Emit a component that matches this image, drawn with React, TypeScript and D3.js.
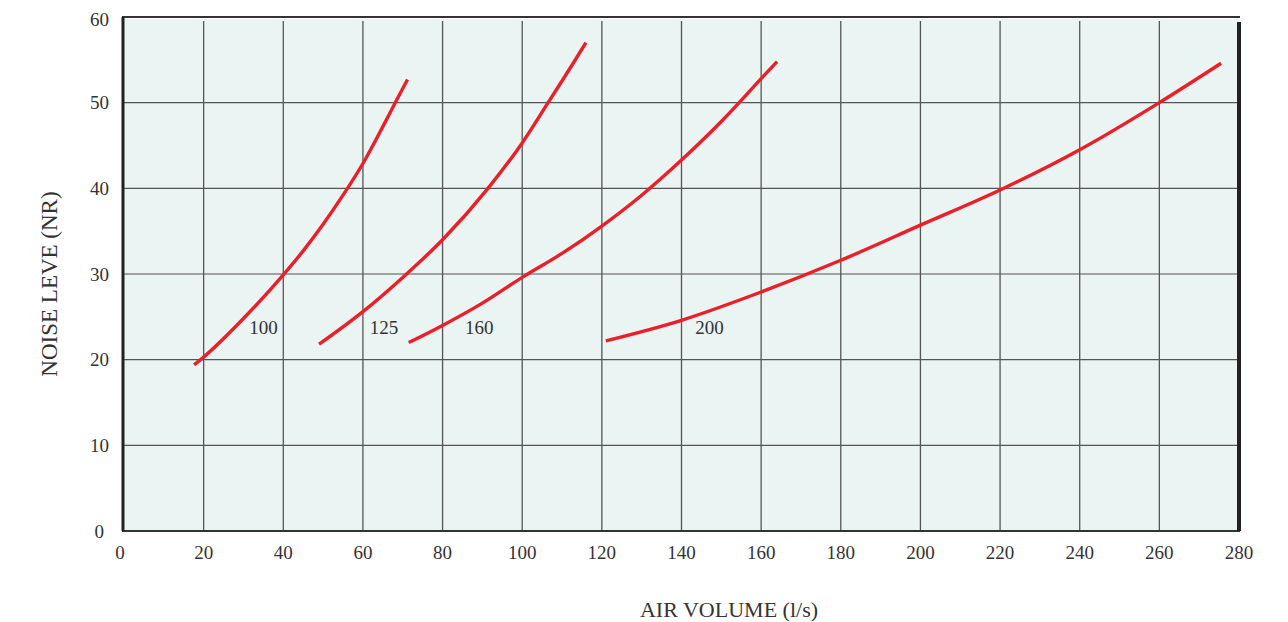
import { useEffect, useRef } from 'react';
import * as d3 from 'd3';

// Noise level (NR) vs air volume (l/s) per duct size
const sizes = ['100', '125', '160', '200'];
const curve100: [number, number][] = [[17.6, 19.4], [20, 20.3], [30, 24.8], [40, 29.9], [45, 32.7], [50, 35.8], [55, 39.2], [60, 42.9], [65, 47.2], [68, 49.9], [71.2, 52.7]];
const curve125: [number, number][] = [[49, 21.8], [60, 25.6], [70, 29.6], [80, 34], [91.4, 40], [100, 45.3], [106.5, 50], [112.8, 54.6], [116, 57]];
const curve160: [number, number][] = [[71.5, 22], [80, 24], [90, 26.6], [100, 29.6], [110, 32.4], [120, 35.6], [130, 39.2], [140, 43.3], [150, 47.8], [160, 52.8], [164, 54.8]];
const curve200: [number, number][] = [[121, 22.2], [140, 24.6], [160, 27.9], [180, 31.6], [200, 35.7], [220, 39.8], [240, 44.5], [260, 50], [275.5, 54.6]];
const labelPos: [number, number][] = [[35, 23.8], [65.3, 23.8], [89.2, 23.8], [147, 23.8]];
const xTicks = d3.range(0, 281, 20);
const yTicks = d3.range(0, 61, 10);

export default function App() {
  const svgRef = useRef<SVGSVGElement>(null);
  const width = 1288, height = 622;

  useEffect(() => {
    if (!svgRef.current) return;
    const svg = d3.select(svgRef.current);
    svg.selectAll('*').remove();

    const x = d3.scaleLinear().domain([0, 280]).range([124, 1239]);
    const y = d3.scaleLinear().domain([0, 60]).range([531, 17]);
    const font = "'Liberation Serif', 'DejaVu Serif', serif";
    const ink = '#333';

    // plot background
    svg.append('rect').attr('x', x(0)).attr('y', y(60) + 2).attr('width', x(280) - x(0)).attr('height', y(0) - y(60) - 2)
      .attr('fill', '#eaf4f2');

    // grid
    svg.append('g').selectAll('line').data(yTicks.filter(d => d > 0 && d < 60)).enter().append('line')
      .attr('x1', x(0)).attr('x2', x(280)).attr('y1', d => y(d)).attr('y2', d => y(d))
      .attr('stroke', '#555').attr('stroke-width', 1.2);
    svg.append('g').selectAll('line').data(xTicks.filter(d => d > 0 && d < 280)).enter().append('line')
      .attr('x1', d => x(d)).attr('x2', d => x(d)).attr('y1', y(60) + 4).attr('y2', y(0))
      .attr('stroke', '#555').attr('stroke-width', 1.3);

    // frame
    svg.append('line').attr('x1', x(0) - 2).attr('x2', x(280) + 1).attr('y1', y(60)).attr('y2', y(60))
      .attr('stroke', ink).attr('stroke-width', 2);
    svg.append('line').attr('x1', x(0) - 2).attr('x2', x(280) + 1).attr('y1', y(0)).attr('y2', y(0))
      .attr('stroke', ink).attr('stroke-width', 2);
    svg.append('line').attr('x1', x(0) - 1).attr('x2', x(0) - 1).attr('y1', y(60)).attr('y2', y(0))
      .attr('stroke', '#222').attr('stroke-width', 3);
    svg.append('line').attr('x1', x(280)).attr('x2', x(280)).attr('y1', y(60) + 5).attr('y2', y(0))
      .attr('stroke', '#222').attr('stroke-width', 4);

    // tick labels
    svg.append('g').selectAll('text').data(yTicks).enter().append('text')
      .attr('x', d => (d === 0 ? 104 : 109)).attr('y', d => y(d) + (d === 60 ? 9 : 6.5)).attr('text-anchor', 'end')
      .attr('font-family', font).attr('font-size', 19).attr('fill', ink).text(d => d);
    svg.append('g').selectAll('text').data(xTicks).enter().append('text')
      .attr('x', d => x(d) - (d === 0 ? 4 : 0)).attr('y', 559).attr('text-anchor', 'middle')
      .attr('font-family', font).attr('font-size', 19).attr('fill', ink).text(d => d);

    // axis titles
    svg.append('text').attr('x', 729).attr('y', 617).attr('text-anchor', 'middle')
      .attr('font-family', font).attr('font-size', 22).attr('fill', ink).text('AIR VOLUME (l/s)');
    svg.append('text').attr('transform', 'translate(57,284) rotate(-90)').attr('text-anchor', 'middle')
      .attr('font-family', font).attr('font-size', 23).attr('fill', ink).text('NOISE LEVE (NR)');

    // curves
    const line = d3.line<[number, number]>().x(d => x(d[0])).y(d => y(d[1])).curve(d3.curveMonotoneX);
    [curve100, curve125, curve160, curve200].forEach(c => {
      svg.append('path').datum(c).attr('d', line)
        .attr('fill', 'none').attr('stroke', '#ea1f29').attr('stroke-width', 3.4);
    });

    // curve labels
    svg.append('g').selectAll('text').data(sizes).enter().append('text')
      .attr('x', (_, i) => x(labelPos[i][0])).attr('y', (_, i) => y(labelPos[i][1]) + 7).attr('text-anchor', 'middle')
      .attr('font-family', font).attr('font-size', 19).attr('fill', ink).text(d => d);
  }, []);

  return <svg ref={svgRef} width={width} height={height} viewBox={`0 0 ${width} ${height}`}
    style={{ display: 'block', position: 'absolute', top: 0, left: 0 }} />;
}
